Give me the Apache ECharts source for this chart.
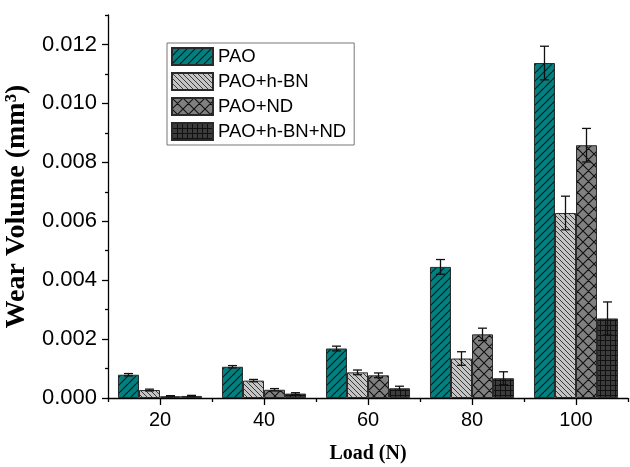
<!DOCTYPE html>
<html>
<head>
<meta charset="utf-8">
<script src="https://cdn.jsdelivr.net/npm/echarts@6/dist/echarts.min.js"></script>
<style>
  html, body { margin: 0; padding: 0; background: #fff; }
  #chart { width: 630px; height: 467px; }
</style>
</head>
<body>
<div id="chart"></div>
<script>
// Load levels (N)
const loads = ['20', '40', '60', '80', '100'];
const seriesNames = ['PAO', 'PAO+h-BN', 'PAO+ND', 'PAO+h-BN+ND'];

// Wear volume (mm^3)
const paoValues = [0.00079, 0.00106, 0.00168, 0.00445, 0.01137];
const hbnValues = [0.00027, 0.00059, 0.00087, 0.00134, 0.00628];
const ndValues = [0.00006, 0.00028, 0.00077, 0.00216, 0.00858];
const hbnNdValues = [0.00007, 0.00015, 0.00033, 0.00067, 0.00270];

// Standard deviation (mm^3)
const paoErrors = [0.00004, 0.00004, 0.00008, 0.00025, 0.00057];
const hbnErrors = [0.00003, 0.00004, 0.00008, 0.00023, 0.00057];
const ndErrors = [0.00002, 0.00004, 0.00008, 0.00021, 0.00057];
const hbnNdErrors = [0.00002, 0.00003, 0.00007, 0.00022, 0.00056];

// Y axis ticks
const majorTicks = [0, 0.002, 0.004, 0.006, 0.008, 0.010, 0.012];
const minorTicks = [0.001, 0.003, 0.005, 0.007, 0.009, 0.011, 0.013];

const allValues = [paoValues, hbnValues, ndValues, hbnNdValues];
const allErrors = [paoErrors, hbnErrors, ndErrors, hbnNdErrors];

// ---- hatch fills ----
function tile(size, bg, draw) {
  const c = document.createElement('canvas');
  c.width = size; c.height = size;
  const g = c.getContext('2d');
  g.fillStyle = bg;
  g.fillRect(0, 0, size, size);
  draw(g, size);
  return { image: c, repeat: 'repeat' };
}
function diag(g, s, rising) {
  for (let k = -1; k <= 1; k++) {
    if (rising) { g.moveTo(k * s, s); g.lineTo(k * s + s, 0); }
    else { g.moveTo(k * s, 0); g.lineTo(k * s + s, s); }
  }
}
const fills = [
  tile(8, '#008080', (g, s) => { g.strokeStyle = '#0a1a1a'; g.lineWidth = 1.2; g.beginPath(); diag(g, s, true); g.stroke(); }),
  tile(5, '#c4c4c4', (g, s) => { g.strokeStyle = '#3a3a3a'; g.lineWidth = 1; g.beginPath(); diag(g, s, false); g.stroke(); }),
  tile(11, '#808080', (g, s) => { g.strokeStyle = '#111'; g.lineWidth = 1.1; g.beginPath(); diag(g, s, true); diag(g, s, false); g.stroke(); }),
  tile(5, '#3c3c3c', (g, s) => { g.strokeStyle = '#111'; g.lineWidth = 1; g.beginPath(); g.moveTo(0, 0.5); g.lineTo(s, 0.5); g.moveTo(0.5, 0); g.lineTo(0.5, s); g.stroke(); })
];

const categoryGap = 0.192;

const barSeries = seriesNames.map((name, i) => ({
  name: name,
  type: 'bar',
  xAxisIndex: 0,
  yAxisIndex: 0,
  barGap: '0%',
  barCategoryGap: (categoryGap * 100) + '%',
  data: allValues[i],
  itemStyle: { color: fills[i], borderColor: '#2a2a2a', borderWidth: 1 },
  z: 2
}));

const errorSeries = seriesNames.map((name, i) => ({
  name: name + ' error',
  type: 'custom',
  xAxisIndex: 0,
  yAxisIndex: 0,
  z: 5,
  data: allValues[i].map((v, j) => [j, v, allErrors[i][j]]),
  encode: { x: 0, y: 1 },
  renderItem: function (params, api) {
    const idx = api.value(0), v = api.value(1), e = api.value(2);
    const band = api.size([1, 0])[0];
    const barW = band * (1 - categoryGap) / 4;
    const x = api.coord([idx, v])[0] + (i - 1.5) * barW;
    const yTop = api.coord([idx, v + e])[1];
    const yBot = api.coord([idx, v - e])[1];
    const half = 4.5;
    const style = { stroke: '#111', lineWidth: 1.3 };
    return {
      type: 'group',
      children: [
        { type: 'line', shape: { x1: x, y1: yTop, x2: x, y2: yBot }, style: style },
        { type: 'line', shape: { x1: x - half, y1: yTop, x2: x + half, y2: yTop }, style: style },
        { type: 'line', shape: { x1: x - half, y1: yBot, x2: x + half, y2: yBot }, style: style }
      ]
    };
  }
}));

const chart = echarts.init(document.getElementById('chart'), null, { renderer: 'canvas' });
chart.setOption({
  animation: false,
  backgroundColor: '#fff',
  grid: { left: 108, right: 2, top: 15, bottom: 69, containLabel: false, outerBoundsMode: 'none' },
  legend: {
    data: seriesNames,
    orient: 'vertical',
    left: 167,
    top: 43,
    itemWidth: 41,
    itemHeight: 17,
    itemGap: 6,
    padding: [4, 8, 4, 4],
    borderColor: '#777',
    borderWidth: 1,
    icon: 'rect',
    textStyle: { fontFamily: 'Liberation Sans', fontSize: 18.5, color: '#000' }
  },
  xAxis: [
    {
      type: 'category',
      data: loads,
      position: 'bottom',
      axisLine: { show: true, lineStyle: { color: '#000', width: 1.3 } },
      axisTick: { show: true, alignWithLabel: true, length: 7, lineStyle: { color: '#000', width: 1.3 } },
      axisLabel: { fontFamily: 'Liberation Sans', fontSize: 20, color: '#000', margin: 12 },
      splitLine: { show: false },
      name: 'Load (N)',
      nameLocation: 'middle',
      nameGap: 46,
      nameTextStyle: { fontFamily: 'Liberation Serif', fontWeight: 'bold', fontSize: 20, color: '#000' }
    },
    {
      type: 'category',
      data: loads,
      position: 'bottom',
      axisLine: { show: false },
      axisTick: { show: true, length: 4, lineStyle: { color: '#000', width: 1.3 } },
      axisLabel: { show: false },
      splitLine: { show: false }
    }
  ],
  yAxis: [
    {
      type: 'value',
      min: 0,
      max: 0.013,
      position: 'left',
      axisLine: { show: true, lineStyle: { color: '#000', width: 1.3 } },
      axisTick: { show: true, customValues: majorTicks, length: 6, lineStyle: { color: '#000', width: 1.3 } },
      axisLabel: {
        customValues: majorTicks,
        formatter: v => v.toFixed(3),
        fontFamily: 'Liberation Sans', fontSize: 22, color: '#000', margin: 11
      },
      splitLine: { show: false },
      name: 'Wear Volume (mm³)',
      nameLocation: 'middle',
      nameGap: 65,
      nameTextStyle: { fontFamily: 'Liberation Serif', fontWeight: 'bold', fontSize: 28, color: '#000' }
    },
    {
      type: 'value',
      min: 0,
      max: 0.013,
      position: 'left',
      axisLine: { show: false },
      axisTick: { show: true, customValues: minorTicks, length: 3, lineStyle: { color: '#000', width: 1.3 } },
      axisLabel: { show: false },
      splitLine: { show: false }
    }
  ],
  series: barSeries.concat(errorSeries)
});
</script>
</body>
</html>
